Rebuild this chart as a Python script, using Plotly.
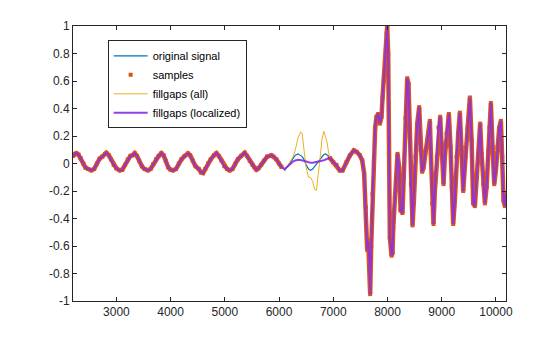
import numpy as np
import plotly.graph_objects as go

# ---- data ----
# segment before the gap (samples exist)
t_pre = [2200, 2230, 2262, 2300, 2340, 2390, 2430, 2480, 2538, 2590, 2640, 2690, 2740, 2790,
         2815, 2860, 2900, 2950, 3000, 3061, 3110, 3160, 3210, 3260, 3300, 3338, 3380, 3420,
         3470, 3520, 3584, 3630, 3680, 3730, 3780, 3830, 3870, 3910, 3960, 4000, 4045, 4100,
         4150, 4200, 4260, 4322, 4360, 4410, 4460, 4520, 4560, 4599, 4640, 4690, 4740, 4800,
         4845, 4890, 4940, 4990, 5040, 5091, 5140, 5190, 5240, 5300, 5367, 5410, 5460, 5510,
         5550, 5583, 5620, 5670, 5720, 5780, 5859, 5900, 5950, 6000, 6045]
y_pre = [0.055, 0.07, 0.075, 0.065, 0.04, 0.0, -0.03, -0.04, -0.05, -0.04, 0.0, 0.035, 0.05, 0.07,
         0.078, 0.06, 0.03, -0.01, -0.035, -0.05, -0.045, -0.01, 0.03, 0.055, 0.06, 0.075, 0.055, 0.02,
         -0.02, -0.04, -0.05, -0.04, -0.005, 0.03, 0.055, 0.075, 0.06, 0.02, -0.03, -0.045, -0.05, -0.04,
         0.0, 0.03, 0.055, 0.073, 0.06, 0.02, -0.02, -0.04, -0.065, -0.07, -0.04, 0.0, 0.03, 0.06,
         0.075, 0.055, 0.02, -0.02, -0.04, -0.05, -0.04, -0.005, 0.03, 0.055, 0.078, 0.055, 0.02, -0.01,
         -0.03, -0.045, -0.035, -0.01, 0.02, 0.05, 0.06, 0.05, 0.03, 0.0, -0.025]

# gap region (no samples): original, fillgaps (all), fillgaps (localized)
t_gap = [6045, 6106, 6180, 6260, 6300, 6352, 6400, 6426, 6460, 6500, 6545, 6580, 6620, 6660,
         6690, 6720, 6760, 6790, 6825, 6860, 6887, 6910, 6937]
y_gap_original = [-0.025, -0.05, -0.01, 0.04, 0.06, 0.07, 0.06, 0.05, 0.03, -0.01, -0.04, -0.05, -0.04, -0.02,
                  0.0, 0.015, 0.035, 0.05, 0.065, 0.07, 0.065, 0.055, 0.045]
y_gap_all = [-0.025, -0.05, 0.0, 0.05, 0.1, 0.19, 0.23, 0.22, 0.1, -0.03, -0.1, -0.1, -0.13, -0.19,
             -0.195, -0.1, 0.05, 0.17, 0.235, 0.19, 0.15, 0.09, 0.045]
y_gap_local = [-0.025, -0.04, -0.01, 0.015, 0.022, 0.027, 0.025, 0.022, 0.018, 0.01, 0.006, 0.005, 0.006, 0.008,
               0.01, 0.013, 0.018, 0.02, 0.024, 0.028, 0.033, 0.04, 0.045]

# segment after the gap (samples exist)
t_post = [6937, 6999, 7060, 7121, 7171, 7245, 7306, 7380, 7429, 7490, 7534, 7570, 7601, 7626,
          7644, 7663, 7681, 7700, 7724, 7749, 7773, 7798, 7829, 7860, 7890, 7909, 7933, 7958,
          7983, 7995, 8013, 8026, 8044, 8075, 8093, 8106, 8137, 8185, 8216, 8241, 8277, 8303,
          8333, 8364, 8388, 8410, 8432, 8462, 8487, 8518, 8549, 8585, 8610, 8640, 8665, 8700,
          8740, 8782, 8800, 8825, 8849, 8874, 8910, 8940, 8972, 8995, 9034, 9059, 9090, 9132,
          9163, 9185, 9212, 9243, 9274, 9305, 9335, 9366, 9397, 9440, 9477, 9520, 9551, 9581,
          9612, 9643, 9674, 9710, 9735, 9766, 9797, 9828, 9858, 9883, 9907, 9938, 9969, 10000,
          10030, 10061, 10092, 10117, 10141, 10166, 10186]
y_post = [0.04, 0.01, -0.01, -0.05, -0.05, 0.01, 0.058, 0.095, 0.085, 0.06, 0.022, -0.073, -0.32, -0.63,
          -0.56, -0.69, -0.95, -0.6, -0.22, 0.02, 0.26, 0.34, 0.36, 0.29, 0.34, 0.48, 0.6, 0.77,
          0.945, 1.0, 0.8, 0.07, -0.54, -0.67, -0.65, -0.47, -0.25, 0.07, -0.03, -0.34, -0.36, -0.1,
          0.33, 0.62, 0.58, 0.19, -0.15, -0.45, -0.27, 0.05, 0.29, 0.41, 0.1, -0.06, -0.03, 0.09,
          0.17, 0.31, 0.07, -0.29, -0.44, -0.2, 0.05, 0.26, 0.34, 0.15, -0.15, 0.05, 0.22, 0.36,
          0.12, -0.17, -0.44, -0.27, 0.05, 0.22, 0.37, 0.12, -0.2, 0.05, 0.26, 0.48, 0.17, -0.29,
          -0.31, -0.1, 0.05, 0.29, 0.07, -0.15, -0.29, -0.17, 0.09, 0.26, 0.44, 0.12, -0.15, -0.05,
          0.12, 0.26, 0.31, 0.05, -0.27, -0.31, -0.22]

x_ticks = [3000, 4000, 5000, 6000, 7000, 8000, 9000, 10000]
y_ticks = [-1, -0.8, -0.6, -0.4, -0.2, 0, 0.2, 0.4, 0.6, 0.8, 1]
y_tick_text = ["-1", "-0.8", "-0.6", "-0.4", "-0.2", "0", "0.2", "0.4", "0.6", "0.8", "1"]

# ---- assemble series ----
t_all = list(t_pre) + list(t_gap[1:-1]) + list(t_post)
orig = list(y_pre) + list(y_gap_original[1:-1]) + list(y_post)
fill_all = list(y_pre) + list(y_gap_all[1:-1]) + list(y_post)
fill_loc = list(y_pre) + list(y_gap_local[1:-1]) + list(y_post)
t_samp = list(t_pre) + [None] + list(t_post)
y_samp = list(y_pre) + [None] + list(y_post)

BLUE = "#0072BD"
ORANGE = "#D95319"
YELLOW = "#EDB120"
PURPLE = "#8A2BE2"

fig = go.Figure()
fig.add_trace(go.Scatter(x=t_all, y=orig, mode="lines", name="original signal",
                         line=dict(color=BLUE, width=1.2)))
fig.add_trace(go.Scatter(x=t_samp, y=y_samp, mode="lines", showlegend=False,
                         legendgroup="samples", line=dict(color=ORANGE, width=4.5),
                         hoverinfo="skip"))
fig.add_trace(go.Scatter(x=t_samp, y=y_samp, mode="markers", name="samples",
                         legendgroup="samples",
                         marker=dict(color=ORANGE, size=4, symbol="square")))
fig.add_trace(go.Scatter(x=t_all, y=fill_all, mode="lines", name="fillgaps (all)",
                         line=dict(color=YELLOW, width=1)))
fig.add_trace(go.Scatter(x=t_all, y=fill_loc, mode="lines", name="fillgaps (localized)",
                         line=dict(color=PURPLE, width=2), opacity=0.9))

axis_common = dict(showline=True, linecolor="#262626", linewidth=1, mirror="ticks",
                   ticks="inside", ticklen=4, tickcolor="#262626", showgrid=False,
                   zeroline=False, tickfont=dict(family="Liberation Sans, Arial", size=12,
                                                 color="#262626"))
fig.update_xaxes(range=[2200, 10186], tickvals=x_ticks,
                 ticktext=[str(v) for v in x_ticks], **axis_common)
fig.update_yaxes(range=[-1, 1], tickvals=y_ticks, ticktext=y_tick_text, **axis_common)

fig.update_layout(
    width=560, height=337,
    margin=dict(l=73, r=54, t=26, b=36),
    paper_bgcolor="white", plot_bgcolor="white",
    showlegend=True,
    legend=dict(x=0.08, y=0.948, xanchor="left", yanchor="top",
                bgcolor="white", bordercolor="#262626", borderwidth=1,
                font=dict(family="Liberation Sans, Arial", size=11, color="#000000"),
                tracegroupgap=0, itemwidth=34),
)

fig.write_html("out.html")
